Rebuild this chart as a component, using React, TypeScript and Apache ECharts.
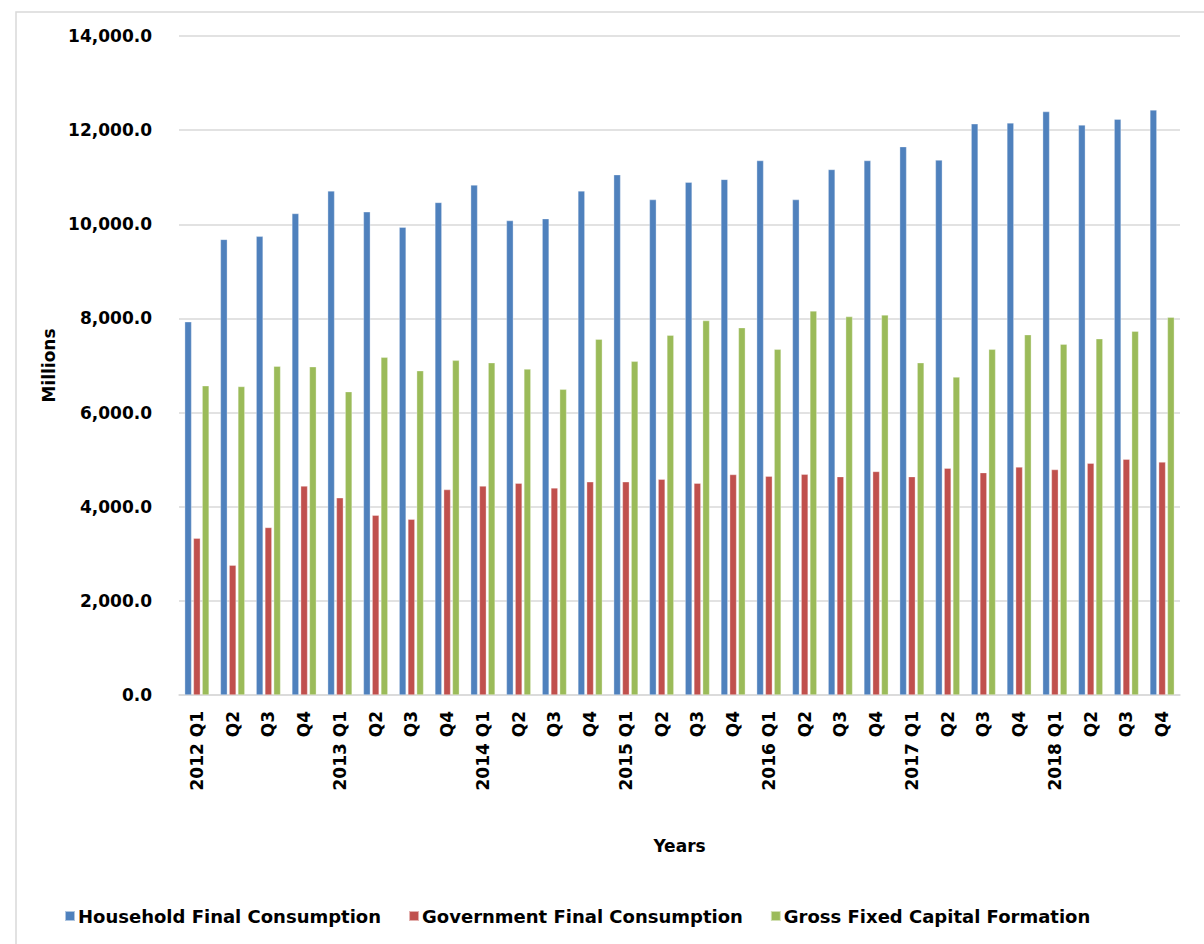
import React, { useEffect, useRef } from "react";
import * as echarts from "echarts";

const categories = [
  "2012 Q1", "Q2", "Q3", "Q4",
  "2013 Q1", "Q2", "Q3", "Q4",
  "2014 Q1", "Q2", "Q3", "Q4",
  "2015 Q1", "Q2", "Q3", "Q4",
  "2016 Q1", "Q2", "Q3", "Q4",
  "2017 Q1", "Q2", "Q3", "Q4",
  "2018 Q1", "Q2", "Q3", "Q4",
];

const household = [
  7930, 9680, 9745, 10230,
  10710, 10265, 9940, 10465,
  10835, 10080, 10120, 10710,
  11055, 10525, 10895, 10955,
  11355, 10525, 11165, 11355,
  11650, 11365, 12135, 12155,
  12395, 12110, 12235, 12430,
];

const government = [
  3330, 2760, 3560, 4440,
  4190, 3820, 3735, 4365,
  4440, 4500, 4400, 4530,
  4530, 4585, 4500, 4685,
  4650, 4690, 4640, 4750,
  4640, 4820, 4725, 4845,
  4790, 4925, 5010, 4950,
];

const grossFixed = [
  6570, 6555, 6985, 6975,
  6445, 7175, 6890, 7110,
  7060, 6925, 6495, 7560,
  7090, 7645, 7955, 7805,
  7345, 8160, 8040, 8075,
  7060, 6755, 7345, 7655,
  7455, 7570, 7730, 8025,
];

const seriesNames = [
  "Household Final Consumption",
  "Government Final Consumption",
  "Gross Fixed Capital Formation",
];

const colors = ["#4f81bd", "#c0504d", "#9bbb59"];

const FONT = "DejaVu Sans";

export default function App() {
  const ref = useRef<HTMLDivElement>(null);

  useEffect(() => {
    if (!ref.current) return;
    const chart = echarts.init(ref.current, undefined, { renderer: "svg" });
    const values = [household, government, grossFixed];
    chart.setOption({
      animation: false,
      color: colors,
      textStyle: { fontFamily: FONT },
      graphic: [
        {
          type: "rect",
          shape: { x: 16, y: 12, width: 1400, height: 1100 },
          style: { fill: "none", stroke: "#d9d9d9", lineWidth: 1.5 },
          silent: true,
        },
      ],
      legend: {
        left: 59,
        top: 902,
        icon: "rect",
        itemWidth: 10,
        itemHeight: 10,
        itemGap: 27,
        textStyle: {
          fontFamily: FONT,
          fontWeight: "bold",
          fontSize: 18,
          color: "#000",
          padding: [0, 0, 0, -2],
        },
        data: seriesNames,
      },
      grid: {
        left: 179,
        right: 24,
        top: 36,
        bottom: 249,
        containLabel: false,
      },
      xAxis: {
        type: "category",
        data: categories,
        name: "Years",
        nameLocation: "middle",
        nameGap: 151,
        nameTextStyle: {
          fontFamily: FONT,
          fontWeight: "bold",
          fontSize: 17,
          color: "#000",
          verticalAlign: "middle",
        },
        axisLine: { show: true, lineStyle: { color: "#d9d9d9", width: 1.5 } },
        axisTick: { show: false },
        axisLabel: {
          rotate: 90,
          interval: 0,
          margin: 16,
          fontFamily: FONT,
          fontWeight: "bold",
          fontSize: 17,
          color: "#000",
        },
      },
      yAxis: {
        type: "value",
        min: 0,
        max: 14000,
        interval: 2000,
        name: "Millions",
        nameLocation: "middle",
        nameGap: 129,
        nameRotate: 90,
        nameTextStyle: {
          fontFamily: FONT,
          fontWeight: "bold",
          fontSize: 17,
          color: "#000",
          verticalAlign: "middle",
        },
        axisLine: { show: false },
        axisTick: { show: false },
        splitLine: { lineStyle: { color: "#d9d9d9", width: 1.5 } },
        axisLabel: {
          margin: 27,
          fontFamily: FONT,
          fontWeight: "bold",
          fontSize: 17,
          color: "#000",
          formatter: (v: number) =>
            v.toLocaleString("en-US", { minimumFractionDigits: 1, maximumFractionDigits: 1 }),
        },
      },
      series: seriesNames.map((name, i) => ({
        name,
        type: "bar",
        data: values[i],
        barWidth: 7,
        barGap: "25%",
        itemStyle: {
          color: colors[i],
          borderColor: "rgba(255,255,255,0.55)",
          borderWidth: 0.6,
        },
      })),
    });
    return () => chart.dispose();
  }, []);

  return (
    <div
      ref={ref}
      style={{ position: "fixed", left: 0, top: 0, width: 1204, height: 944, background: "#fff" }}
    />
  );
}
